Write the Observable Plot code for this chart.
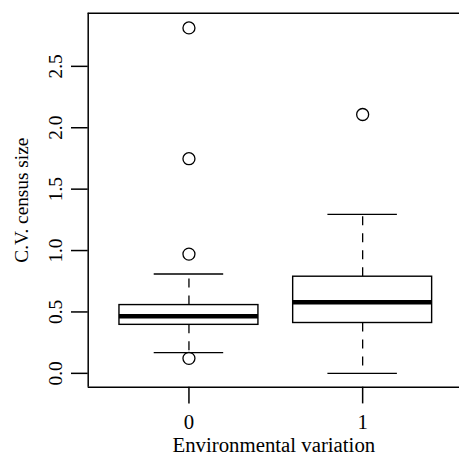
<!DOCTYPE html>
<html>
<head>
<meta charset="utf-8">
<script src="https://cdn.jsdelivr.net/npm/d3@7"></script>
<script src="https://cdn.jsdelivr.net/npm/@observablehq/plot@0.6"></script>
<style>
  html, body { margin: 0; padding: 0; background: #fff; }
  #chart svg { display: block; }
  #chart svg, #chart svg text { font-family: "Liberation Serif", "DejaVu Serif", serif !important; }
</style>
</head>
<body>
<div id="chart"></div>
<script>
// Data
const groups = ["0", "1"];
const positions = [1, 2];
const whiskerLow = [0.168, 0.0];
const quartile1 = [0.395, 0.410];
const medians = [0.465, 0.578];
const quartile3 = [0.556, 0.787];
const whiskerHigh = [0.809, 1.295];
const outliers = [
  [0.122, 0.971, 1.748, 2.813],
  [2.108]
];
const yTicks = [0, 0.5, 1.0, 1.5, 2.0, 2.5];

const boxes = groups.map((g, i) => ({
  group: g, pos: positions[i],
  lo: whiskerLow[i], q1: quartile1[i], med: medians[i], q3: quartile3[i], hi: whiskerHigh[i]
}));
const outlierPts = groups.flatMap((g, i) => outliers[i].map(v => ({group: g, pos: positions[i], value: v})));

const yDomain = [-0.1128, 2.9328];
const xDomain = [0.42, 2.58];
const boxHalf = 0.4, capHalf = 0.2;
const serif = "Liberation Serif";

const chart = Plot.plot({
  width: 459,
  height: 455,
  marginLeft: 87.7,
  marginTop: 12.7,
  marginBottom: 68.3,
  marginRight: 0,
  style: {fontFamily: serif, background: "white", color: "black"},
  x: {type: "linear", domain: xDomain, range: [87.7, 462.9]},
  y: {type: "linear", domain: yDomain},
  marks: [
    // frame (left, top, bottom)
    Plot.ruleX([xDomain[0]], {stroke: "black", strokeWidth: 1.5}),
    Plot.ruleY([yDomain[0], yDomain[1]], {stroke: "black", strokeWidth: 1.5}),
    // whiskers
    Plot.ruleX(boxes, {x: "pos", y1: "q3", y2: "hi", stroke: "black", strokeWidth: 1.3, strokeDasharray: "9,8"}),
    Plot.ruleX(boxes, {x: "pos", y1: "q1", y2: "lo", stroke: "black", strokeWidth: 1.3, strokeDasharray: "9,8"}),
    // caps
    Plot.ruleY(boxes, {y: "hi", x1: d => d.pos - capHalf, x2: d => d.pos + capHalf, stroke: "black", strokeWidth: 1.3}),
    Plot.ruleY(boxes, {y: "lo", x1: d => d.pos - capHalf, x2: d => d.pos + capHalf, stroke: "black", strokeWidth: 1.3}),
    // boxes
    Plot.rect(boxes, {x1: d => d.pos - boxHalf, x2: d => d.pos + boxHalf, y1: "q1", y2: "q3", fill: "white", stroke: "black", strokeWidth: 1.4}),
    // medians
    Plot.ruleY(boxes, {y: "med", x1: d => d.pos - boxHalf, x2: d => d.pos + boxHalf, stroke: "black", strokeWidth: 4.5, strokeLinecap: "butt"}),
    // outliers
    Plot.dot(outlierPts, {x: "pos", y: "value", r: 6, stroke: "black", fill: "none", strokeWidth: 1.3}),
    // axes
    Plot.axisY({
      ticks: yTicks, tickSize: 16.7, tickPadding: 9, tickRotate: -90,
      tickFormat: d3.format(".1f"), fontSize: 19.3, fontFamily: serif, strokeWidth: 1.5,
      label: "C.V. census size", labelAnchor: "center", labelArrow: "none", labelOffset: 74
    }),
    Plot.axisX({
      ticks: positions, tickSize: 16.7, tickPadding: 10.5,
      tickFormat: d => groups[positions.indexOf(d)], fontSize: 20.8, fontFamily: serif, strokeWidth: 1.5,
      label: "Environmental variation", labelAnchor: "center", labelArrow: "none", labelOffset: 65
    })
  ]
});
document.getElementById("chart").appendChild(chart);
</script>
</body>
</html>
